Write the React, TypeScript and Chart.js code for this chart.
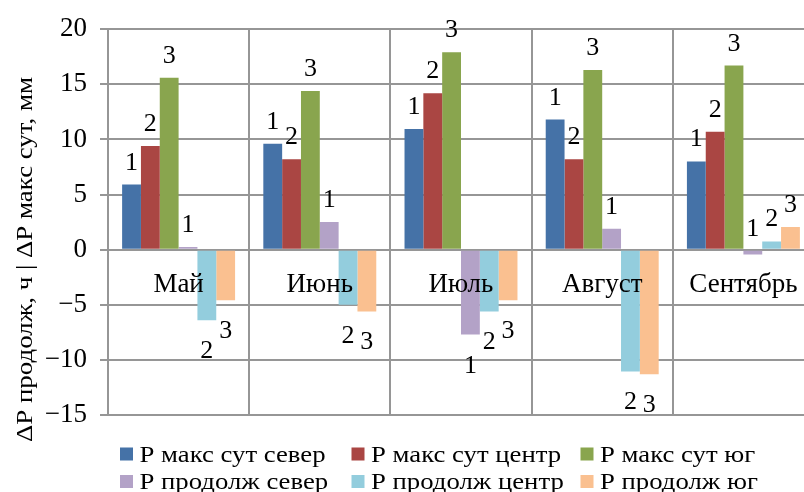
import React, { useEffect, useRef } from "react";
import { Chart, registerables } from "chart.js";

Chart.register(...registerables);

// Months on the category axis
const months = ["Май", "Июнь", "Июль", "Август", "Сентябрь"];

// Series names (legend order)
const seriesNames = [
  "Р макс сут север",
  "Р макс сут центр",
  "Р макс сут юг",
  "Р продолж север",
  "Р продолж центр",
  "Р продолж юг",
];

// ΔP макс сут, мм
const maxNorth = [5.9, 9.6, 10.95, 11.8, 8.0];
const maxCenter = [9.4, 8.2, 14.2, 8.2, 10.7];
const maxSouth = [15.6, 14.4, 17.9, 16.3, 16.7];
// ΔP продолж, ч
const durNorth = [0.25, 2.5, -7.7, 1.9, -0.45];
const durCenter = [-6.4, -5.0, -5.6, -11.05, 0.75];
const durSouth = [-4.6, -5.6, -4.6, -11.3, 2.05];

// Number printed next to each bar: 1 = север, 2 = центр, 3 = юг
const regionNumbers = ["1", "2", "3", "1", "2", "3"];

const seriesColors = ["#4572A7", "#AA4643", "#89A54E", "#B3A2C7", "#93CDDD", "#FAC090"];

const yMin = -15;
const yMax = 20;
const yStep = 5;
const yTitle = "ΔP продолж, ч | ΔP макс сут, мм";

const FONT = '"Liberation Serif", "Times New Roman", serif';
const GRID = "#969696";

// Region numbers over positive bars, under long negative ones
const regionLabelsPlugin = {
  id: "regionLabels",
  afterDatasetsDraw(chart: any) {
    const ctx = chart.ctx;
    ctx.save();
    ctx.font = `26px ${FONT}`;
    ctx.fillStyle = "#000";
    ctx.textAlign = "center";
    ctx.textBaseline = "alphabetic";
    chart.data.datasets.forEach((ds: any, di: number) => {
      const meta = chart.getDatasetMeta(di);
      meta.data.forEach((bar: any, i: number) => {
        const v = ds.data[i];
        const { x, y, base } = bar.getProps(["x", "y", "base"], true);
        const baseline = v < -1 ? Math.max(y, base) + 38 : Math.min(y, base) - 15;
        ctx.fillText(regionNumbers[di], x, baseline);
      });
    });
    ctx.restore();
  },
};

// Month names just under the zero line, drawn over the bars
const monthLabelsPlugin = {
  id: "monthLabels",
  afterDatasetsDraw(chart: any) {
    const ctx = chart.ctx;
    const xs = chart.scales.x;
    const zero = chart.scales.y.getPixelForValue(0);
    ctx.save();
    ctx.font = `27px ${FONT}`;
    ctx.fillStyle = "#000";
    ctx.textAlign = "center";
    ctx.textBaseline = "alphabetic";
    months.forEach((m, i) => {
      ctx.fillText(m, xs.getPixelForValue(i), zero + 42);
    });
    ctx.restore();
  },
};

// Three-column legend below the plot
const legendPlugin = {
  id: "gridLegend",
  afterDraw(chart: any) {
    const ctx = chart.ctx;
    const cols = [120, 351.5, 580.5];
    const rows = [461.5, 489];
    ctx.save();
    ctx.font = `23px ${FONT}`;
    ctx.textAlign = "left";
    ctx.textBaseline = "alphabetic";
    const stretch = 186 / ctx.measureText(seriesNames[0]).width;
    seriesNames.forEach((name, i) => {
      const cx = cols[i % 3];
      const by = rows[Math.floor(i / 3)];
      ctx.fillStyle = seriesColors[i];
      ctx.fillRect(cx, by - 14, 13, 13);
      ctx.fillStyle = "#000";
      ctx.save();
      ctx.translate(cx + 19.5, by);
      ctx.scale(stretch, 1);
      ctx.fillText(name, 0, 0);
      ctx.restore();
    });
    ctx.restore();
  },
};

// Rotated y-axis title
const yTitlePlugin = {
  id: "yTitle",
  afterDraw(chart: any) {
    const ctx = chart.ctx;
    ctx.save();
    ctx.font = `23px ${FONT}`;
    ctx.fillStyle = "#000";
    ctx.textAlign = "center";
    ctx.textBaseline = "alphabetic";
    const stretch = 365 / ctx.measureText(yTitle).width;
    ctx.translate(32, 259.5);
    ctx.rotate(-Math.PI / 2);
    ctx.scale(stretch, 1);
    ctx.fillText(yTitle, 0, 0);
    ctx.restore();
  },
};

export default function App() {
  const ref = useRef<HTMLCanvasElement | null>(null);

  useEffect(() => {
    if (!ref.current) return;
    let chart: Chart | null = null;
    let cancelled = false;
    const series = [maxNorth, maxCenter, maxSouth, durNorth, durCenter, durSouth];

    const build = () => {
      if (cancelled || !ref.current) return;
      chart = new Chart(ref.current, {
        type: "bar",
        data: {
          labels: months,
          datasets: series.map((d, i) => ({
            label: seriesNames[i],
            data: d,
            backgroundColor: seriesColors[i],
            borderWidth: 0,
            categoryPercentage: 0.8,
            barPercentage: 1.0,
          })),
        },
        options: {
          responsive: false,
          animation: false,
          devicePixelRatio: 1,
          layout: { padding: { top: 27, bottom: 77, left: 0, right: 0 } },
          plugins: {
            legend: { display: false },
            tooltip: { enabled: false },
          },
          scales: {
            x: {
              position: { y: 0 },
              offset: true,
              grid: { offset: true, color: GRID, lineWidth: 2, tickLength: 0 },
              border: { display: true, color: GRID, width: 2 },
              ticks: { display: false },
            },
            y: {
              min: yMin,
              max: yMax,
              ticks: {
                stepSize: yStep,
                font: { family: FONT, size: 27 },
                color: "#000",
                padding: 13,
                callback: (v: any) => (v < 0 ? "\u2212" + Math.abs(v) : String(v)),
              },
              grid: { color: GRID, lineWidth: 2, tickLength: 8 },
              border: { display: true, color: GRID, width: 2 },
              afterFit: (s: any) => {
                s.width = 108;
              },
            },
          },
        },
        plugins: [regionLabelsPlugin, monthLabelsPlugin, legendPlugin, yTitlePlugin],
      });
    };

    const fonts: any = (document as any).fonts;
    if (fonts && fonts.load) {
      Promise.all([
        fonts.load(`27px "Liberation Serif"`, "ΔPМайпродолж0123"),
        fonts.load(`23px "Liberation Serif"`, "Р макс сут"),
      ])
        .catch(() => undefined)
        .then(build);
    } else {
      build();
    }

    return () => {
      cancelled = true;
      if (chart) chart.destroy();
    };
  }, []);

  return (
    <div
      style={{
        position: "fixed",
        left: 0,
        top: 0,
        width: 804,
        height: 492,
        overflow: "hidden",
        background: "#fff",
      }}
    >
      <canvas ref={ref} width={814} height={492} />
    </div>
  );
}
